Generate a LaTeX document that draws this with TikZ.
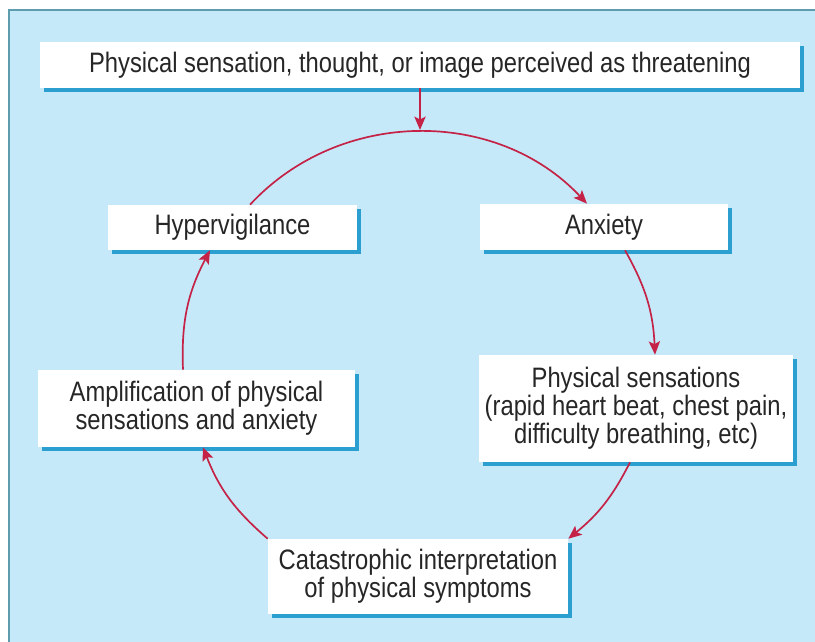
\documentclass[tikz,border=0pt]{standalone}
\usepackage{fontspec}
\setmainfont{Liberation Sans}[FakeStretch=0.845]
\usetikzlibrary{arrows.meta,shadows,calc}
\definecolor{panel}{HTML}{C6E9F9}
\definecolor{panelborder}{HTML}{5E9DAE}
\definecolor{shadowblue}{HTML}{2A9FD0}
\definecolor{arrowred}{HTML}{C42246}
\definecolor{txt}{HTML}{262626}
\begin{document}
\begin{tikzpicture}[x=0.025cm,y=-0.025cm,
  box/.style={fill=white, align=center, text=txt, inner sep=0pt,
    font=\fontsize{20}{20}\selectfont,
    drop shadow={fill=shadowblue, opacity=1, shadow xshift=2.8pt, shadow yshift=-2.8pt}},
  arr/.style={draw=arrowred, line width=1.2pt, -{Stealth[length=9.5pt,width=8pt,inset=2pt]}}]
\useasboundingbox (0,0) rectangle (815,642);
\clip (0,0) rectangle (815,642);
\fill[panel] (9,10) rectangle (830,660);
\draw[panelborder, line width=1.2pt] (9,660) -- (9,10) -- (830,10);

\node[box, minimum width=19cm, minimum height=1.15cm] (top) at (420,65)
  {Physical sensation, thought, or image perceived as threatening};
\node[box, minimum width=6.225cm, minimum height=1.125cm] (hyp) at (232.5,227.5) {Hypervigilance};
\node[box, minimum width=6.2cm, minimum height=1.15cm] (anx) at (604,227) {Anxiety};
\node[box, minimum width=7.85cm, minimum height=2.675cm] (phys) at (636,408.5)
  {Physical sensations\\(rapid heart beat, chest pain,\\difficulty breathing, etc)};
\node[box, minimum width=7.5cm, minimum height=1.875cm] (cat) at (418,576.5)
  {Catastrophic interpretation\\of physical symptoms};
\node[box, minimum width=7.925cm, minimum height=1.925cm] (amp) at (196.5,408.5)
  {Amplification of physical\\sensations and anxiety};

\coordinate (ctop) at (420,130);
\draw[arr] (top.south) -- (ctop);
\draw[arr] ($(hyp.north)+(17.5,0)$) to[bend left=47] ($(anx.north)+(-17,0)$);
\draw[arr] ($(anx.south)+(21,0)$) to[bend left=13.5] ($(phys.north)+(19,0)$);
\draw[arr] ($(phys.south)+(-6,0)$) to[bend left=12] (cat.north east);
\draw[arr] (cat.north west) to[bend left=14] ($(amp.south)+(6.5,0)$);
\draw[arr] ($(amp.north)+(-13.5,0)$) to[bend left=15] ($(hyp.south)+(-22.5,0)$);
\end{tikzpicture}
\end{document}
